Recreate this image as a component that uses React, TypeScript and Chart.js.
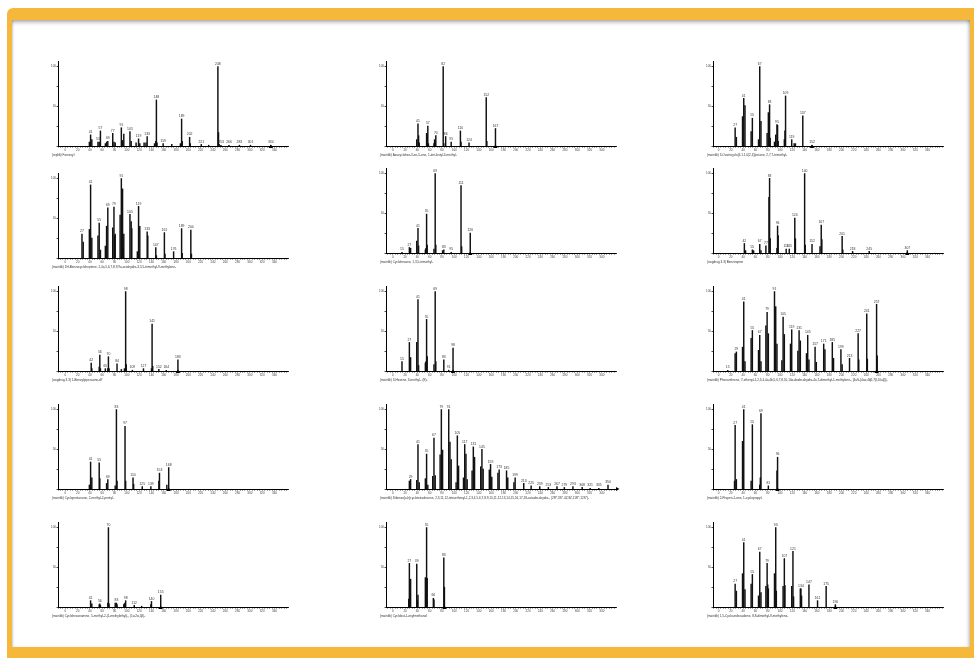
import React, { useEffect, useRef } from 'react';
import { Chart, registerables } from 'chart.js';

Chart.register(...registerables);
Chart.defaults.font.family = 'Arial, "Liberation Sans", sans-serif';

// ---------- axis labels ----------
const X_TICK_LABELS = [0, 20, 40, 60, 80, 100, 120, 140, 160, 180, 200, 220, 240, 260, 280, 300, 320, 340];
const Y_TICK_VALUES = [0, 25, 50, 75, 100];
const Y_TICK_LABELS = [50, 100];
const X_MINOR_STEP = 4;
const Y_MAX = 107;
const X_SPAN = 374;

// ---------- spectra (m/z, relative intensity, labelled peaks, molecular-weight marker) ----------
const A_TITLE = '(replib) Farnesyl';
const A_MZ = [39, 41, 43, 53, 55, 57, 65, 67, 69, 77, 79, 81, 91, 93, 95, 105, 107, 115, 119, 121, 128, 131, 133, 145, 147, 148, 149, 159, 173, 187, 189, 190, 202, 203, 221, 233, 248, 249, 250, 253, 266, 283, 301, 334];
const A_INT = [5, 14, 8, 5, 5, 19, 3, 5, 6, 16, 5, 4, 23, 7, 15, 18, 6, 4, 9, 3, 4, 4, 12, 3, 6, 58, 4, 3, 2, 3, 34, 6, 11, 3, 2, 1, 100, 17, 2, 1, 1, 1, 1, 1];
const A_LABELS = [41, 53, 57, 69, 77, 91, 105, 119, 133, 148, 159, 189, 202, 221, 248, 253, 266, 283, 301, 334];
const A_MW = 334;

const B_TITLE = '(mainlib) 1H-Benzocycloheptene, 2,4a,5,6,7,8,9,9a-octahydro-3,5,5-trimethyl-9-methylene-';
const B_MZ = [27, 29, 39, 41, 43, 53, 55, 57, 65, 67, 69, 77, 79, 80, 81, 89, 91, 93, 94, 95, 105, 107, 108, 117, 119, 121, 133, 134, 147, 148, 161, 162, 176, 189, 190, 204, 205];
const B_INT = [30, 20, 36, 92, 25, 28, 44, 10, 15, 40, 63, 38, 64, 28, 30, 54, 100, 87, 13, 30, 55, 46, 37, 8, 65, 40, 33, 28, 13, 3, 32, 5, 8, 37, 6, 35, 5];
const B_LABELS = [27, 41, 55, 69, 79, 91, 105, 119, 133, 147, 161, 176, 189, 204];
const B_MW = null;

const C_TITLE = '(swgdrug 3.3) 1-Benzylpiperazine-d7';
const C_MZ = [42, 43, 55, 56, 57, 65, 69, 70, 71, 84, 91, 96, 98, 99, 109, 127, 140, 141, 142, 152, 164, 183];
const C_INT = [10, 3, 5, 20, 3, 3, 3, 18, 3, 9, 2, 3, 100, 8, 1, 3, 3, 59, 6, 2, 1, 14];
const C_LABELS = [42, 56, 65, 70, 84, 98, 109, 127, 141, 152, 164, 183];
const C_MW = 183;

const D_TITLE = '(mainlib) Cyclopentanone, 2-methyl-2-pentyl-';
const D_MZ = [39, 41, 43, 55, 56, 67, 69, 81, 83, 84, 97, 98, 110, 111, 125, 139, 152, 153, 165, 168];
const D_INT = [5, 34, 14, 33, 13, 7, 12, 4, 100, 10, 79, 10, 14, 6, 3, 3, 10, 20, 5, 27];
const D_LABELS = [41, 55, 69, 83, 97, 110, 125, 139, 153, 168];
const D_MW = 168;

const E_TITLE = '(mainlib) Cyclohexanamine, 5-methyl-2-(1-methylethyl)-, (1\u03b1,2\u03b1,5\u03b2)-';
const E_MZ = [41, 43, 55, 56, 57, 69, 70, 71, 81, 83, 84, 95, 96, 97, 98, 112, 124, 139, 140, 155];
const E_INT = [8, 4, 3, 4, 2, 5, 100, 4, 5, 5, 3, 3, 4, 5, 8, 2, 1, 3, 7, 15];
const E_LABELS = [41, 56, 70, 83, 98, 112, 140, 155];
const E_MW = 155;

const F_TITLE = '(mainlib) Azacyclohex-3-en-5-one, 1-tert-butyl-3-methyl-';
const F_MZ = [39, 41, 42, 43, 55, 56, 57, 58, 67, 68, 69, 70, 82, 83, 86, 95, 110, 111, 124, 152, 153, 167];
const F_INT = [8, 28, 13, 4, 16, 14, 25, 3, 3, 8, 5, 13, 100, 3, 12, 5, 19, 5, 4, 61, 6, 22];
const F_LABELS = [41, 57, 70, 82, 86, 95, 110, 124, 152, 167];
const F_MW = 167;

const G_TITLE = '(mainlib) Cyclohexane, 1,3,5-trimethyl-';
const G_MZ = [15, 27, 29, 39, 41, 42, 53, 54, 55, 56, 67, 69, 70, 81, 83, 95, 111, 112, 126];
const G_INT = [1, 7, 6, 15, 31, 9, 4, 6, 49, 10, 5, 100, 10, 3, 4, 1, 85, 8, 25];
const G_LABELS = [15, 27, 41, 55, 69, 83, 95, 111, 126];
const G_MW = 126;

const H_TITLE = '(mainlib) 3-Hexene, 3-methyl-, (E)-';
const H_MZ = [15, 27, 29, 39, 41, 42, 53, 54, 55, 56, 67, 69, 70, 83, 91, 98];
const H_INT = [12, 36, 17, 36, 90, 7, 10, 12, 65, 18, 8, 100, 12, 14, 1, 29];
const H_LABELS = [15, 27, 41, 55, 69, 83, 91, 98];
const H_MW = 98;

const I_TITLE = '(mainlib) Dibenzo[a,h]cyclotetradecene, 2,3,11,12-tetraethenyl-1,2,3,4,5,6,7,8,9,10,11,12,13,14,15,16,17,18-octadecahydro-, (2R*,3S*,4Z,8Z,11R*,12S*)-';
const I_MZ = [27, 29, 39, 41, 43, 53, 55, 57, 65, 67, 69, 77, 79, 81, 91, 93, 95, 103, 105, 107, 115, 117, 119, 121, 129, 131, 133, 143, 145, 147, 157, 159, 161, 171, 173, 185, 187, 197, 199, 213, 225, 239, 253, 267, 279, 293, 308, 321, 335, 350];
const I_INT = [10, 12, 11, 56, 8, 13, 44, 5, 16, 64, 17, 43, 100, 49, 100, 59, 37, 8, 67, 29, 14, 56, 44, 12, 23, 53, 40, 28, 50, 25, 24, 31, 15, 20, 24, 23, 14, 8, 14, 7, 4, 3, 2, 3, 2, 3, 2, 1, 1, 5];
const I_LABELS = [29, 41, 55, 67, 79, 91, 105, 117, 131, 145, 159, 173, 185, 199, 213, 225, 239, 253, 267, 279, 293, 308, 321, 335, 350];
const I_MW = null;

const J_TITLE = '(mainlib) Cyclobut-1-enylmethanol';
const J_MZ = [26, 27, 28, 29, 39, 40, 41, 53, 54, 55, 56, 66, 67, 83, 84];
const J_INT = [10, 55, 25, 35, 54, 8, 15, 37, 16, 100, 36, 11, 9, 62, 25];
const J_LABELS = [27, 39, 55, 66, 83];
const J_MW = 84;

const K_TITLE = '(mainlib) 3-Oxatricyclo[4.1.1.0(2,4)]octane, 2,7,7-trimethyl-';
const K_MZ = [27, 29, 39, 41, 43, 53, 55, 65, 67, 69, 79, 81, 83, 84, 91, 93, 95, 96, 97, 107, 108, 109, 119, 123, 125, 137, 152];
const K_INT = [23, 11, 37, 60, 51, 18, 35, 8, 100, 31, 16, 42, 52, 10, 5, 14, 27, 26, 6, 8, 19, 63, 8, 3, 3, 38, 1];
const K_LABELS = [27, 41, 55, 67, 83, 95, 109, 119, 137, 152];
const K_MW = 152;

const L_TITLE = '(swgdrug 3.3) Benztropine';
const L_MZ = [42, 44, 55, 57, 67, 69, 77, 82, 83, 84, 95, 96, 97, 110, 115, 124, 125, 140, 141, 152, 165, 167, 168, 201, 202, 218, 245, 307];
const L_INT = [12, 3, 4, 3, 11, 3, 9, 70, 94, 18, 6, 34, 22, 5, 5, 44, 18, 100, 10, 11, 8, 35, 17, 21, 4, 2, 2, 3];
const L_LABELS = [42, 55, 67, 77, 83, 96, 110, 115, 124, 140, 152, 167, 201, 218, 245, 307];
const L_MW = 307;

const M_TITLE = '(mainlib) Phenanthrene, 7-ethenyl-1,2,3,4,4a,4b,5,6,7,8,10,10a-dodecahydro-4a,7-dimethyl-1-methylene-, [4aS-(4a\u03b1,4b\u03b2,7\u03b2,10a\u03b2)]-';
const M_MZ = [15, 27, 29, 39, 41, 43, 53, 55, 65, 67, 69, 77, 79, 81, 91, 93, 95, 103, 105, 107, 117, 119, 129, 131, 133, 143, 145, 147, 157, 159, 171, 173, 185, 187, 199, 201, 213, 227, 228, 241, 242, 257, 258];
const M_INT = [1, 22, 24, 30, 87, 12, 41, 51, 26, 45, 12, 57, 74, 47, 100, 81, 34, 13, 68, 46, 34, 52, 25, 51, 38, 22, 45, 14, 30, 11, 34, 27, 36, 16, 27, 8, 16, 47, 14, 72, 15, 84, 19];
const M_LABELS = [15, 29, 41, 55, 67, 79, 91, 105, 119, 131, 145, 157, 171, 185, 199, 213, 227, 241, 257];
const M_MW = 257;

const N_TITLE = '(mainlib) 2-Propen-1-one, 1-cyclopropyl-';
const N_MZ = [26, 27, 29, 39, 41, 53, 55, 67, 68, 69, 81, 95, 96];
const N_INT = [10, 80, 12, 60, 100, 10, 81, 5, 14, 95, 4, 23, 40];
const N_LABELS = [27, 41, 55, 69, 81, 96];
const N_MW = 96;

const O_TITLE = '(mainlib) 1,5-Cycloundecadiene, 8,8-dimethyl-9-methylene-';
const O_MZ = [27, 29, 39, 41, 43, 53, 55, 65, 67, 69, 77, 79, 80, 81, 91, 93, 94, 105, 107, 108, 119, 121, 122, 133, 134, 135, 147, 161, 175, 190];
const O_INT = [29, 20, 42, 81, 22, 29, 41, 14, 69, 18, 26, 55, 28, 23, 42, 100, 20, 26, 61, 27, 26, 70, 13, 23, 23, 14, 28, 8, 26, 3];
const O_LABELS = [27, 41, 55, 67, 79, 93, 107, 121, 134, 147, 161, 175, 190];
const O_MW = 190;

type Spec = {
  title: string;
  mz: number[];
  inten: number[];
  labels: number[];
  mw: number | null;
  arrow?: boolean;
};

// grid order: rows of three
const GRID: Spec[][] = [
  [
    { title: A_TITLE, mz: A_MZ, inten: A_INT, labels: A_LABELS, mw: A_MW },
    { title: F_TITLE, mz: F_MZ, inten: F_INT, labels: F_LABELS, mw: F_MW },
    { title: K_TITLE, mz: K_MZ, inten: K_INT, labels: K_LABELS, mw: K_MW },
  ],
  [
    { title: B_TITLE, mz: B_MZ, inten: B_INT, labels: B_LABELS, mw: B_MW },
    { title: G_TITLE, mz: G_MZ, inten: G_INT, labels: G_LABELS, mw: G_MW },
    { title: L_TITLE, mz: L_MZ, inten: L_INT, labels: L_LABELS, mw: L_MW },
  ],
  [
    { title: C_TITLE, mz: C_MZ, inten: C_INT, labels: C_LABELS, mw: C_MW },
    { title: H_TITLE, mz: H_MZ, inten: H_INT, labels: H_LABELS, mw: H_MW },
    { title: M_TITLE, mz: M_MZ, inten: M_INT, labels: M_LABELS, mw: M_MW },
  ],
  [
    { title: D_TITLE, mz: D_MZ, inten: D_INT, labels: D_LABELS, mw: D_MW },
    { title: I_TITLE, mz: I_MZ, inten: I_INT, labels: I_LABELS, mw: I_MW, arrow: true },
    { title: N_TITLE, mz: N_MZ, inten: N_INT, labels: N_LABELS, mw: N_MW },
  ],
  [
    { title: E_TITLE, mz: E_MZ, inten: E_INT, labels: E_LABELS, mw: E_MW },
    { title: J_TITLE, mz: J_MZ, inten: J_INT, labels: J_LABELS, mw: J_MW },
    { title: O_TITLE, mz: O_MZ, inten: O_INT, labels: O_LABELS, mw: O_MW },
  ],
];

// ---------- layout ----------
const COL_LEFT = [58, 386, 713];
const COL_XMIN = [-12, -11, -9];
const ROW_ZERO = [
  [146, 146, 146],
  [258, 253, 253],
  [371, 371, 371],
  [489, 489, 489],
  [607, 607, 607],
];
const PLOT_W = 230;
const PLOT_H = 85;
const PAD_L = 22;
const PAD_T = 6;
const PAD_R = 14;
const CW = PAD_L + PLOT_W + PAD_R;
const CH = 116;
const Y_AXIS_W = 12;
const X_AXIS_H = 8;

const FONT = 'Arial, "Liberation Sans", sans-serif';

function Spectrum({ spec, left, zeroY, xMin }: { spec: Spec; left: number; zeroY: number; xMin: number }) {
  const ref = useRef<HTMLCanvasElement | null>(null);

  useEffect(() => {
    const canvas = ref.current;
    if (!canvas) return;
    const xMax = xMin + X_SPAN;
    const xTicks: number[] = [];
    for (let v = Math.ceil(xMin / X_MINOR_STEP) * X_MINOR_STEP; v <= xMax; v += X_MINOR_STEP) xTicks.push(v);

    const annotate = {
      id: 'annotate',
      afterDatasetsDraw(chart: any) {
        const ctx = chart.ctx;
        const xs = chart.scales.x;
        const ys = chart.scales.y;
        const area = chart.chartArea;
        ctx.save();
        // peak labels
        ctx.fillStyle = '#333';
        ctx.font = `3.4px ${FONT}`;
        ctx.textAlign = 'center';
        ctx.textBaseline = 'bottom';
        spec.labels.forEach((m) => {
          const i = spec.mz.indexOf(m);
          if (i < 0) return;
          const x = xs.getPixelForValue(m);
          const y = ys.getPixelForValue(spec.inten[i]);
          ctx.fillText(String(m), x, y - 1);
        });
        // molecular weight marker
        const zero = ys.getPixelForValue(0);
        ctx.fillStyle = '#000';
        if (spec.mw !== null) {
          const x = xs.getPixelForValue(spec.mw);
          ctx.beginPath();
          ctx.moveTo(x - 2.2, zero + 2);
          ctx.lineTo(x + 2.2, zero + 2);
          ctx.lineTo(x, zero - 1.5);
          ctx.closePath();
          ctx.fill();
        }
        if (spec.arrow) {
          const x = area.right;
          ctx.beginPath();
          ctx.moveTo(x, zero - 2);
          ctx.lineTo(x, zero + 2);
          ctx.lineTo(x + 3.5, zero);
          ctx.closePath();
          ctx.fill();
        }
        // caption
        ctx.fillStyle = '#333';
        ctx.font = `3.1px ${FONT}`;
        ctx.textAlign = 'left';
        ctx.textBaseline = 'middle';
        ctx.fillText(spec.title, area.left - 6, area.bottom + 9.5);
        ctx.restore();
      },
    };

    const chart = new Chart(canvas, {
      type: 'bar',
      data: {
        datasets: [
          {
            data: spec.mz.map((m, i) => ({ x: m, y: spec.inten[i] })),
            backgroundColor: '#111',
            borderWidth: 0,
            barThickness: 0.8,
            grouped: false,
          } as any,
        ],
      },
      options: {
        animation: false,
        responsive: false,
        maintainAspectRatio: false,
        events: [],
        layout: {
          padding: {
            left: PAD_L - Y_AXIS_W,
            top: PAD_T,
            right: PAD_R,
            bottom: CH - PAD_T - PLOT_H - X_AXIS_H,
          },
        },
        plugins: {
          legend: { display: false },
          tooltip: { enabled: false },
          title: { display: false },
        },
        scales: {
          x: {
            type: 'linear',
            min: xMin,
            max: xMax,
            offset: false,
            afterBuildTicks: (s: any) => {
              s.ticks = xTicks.map((v) => ({ value: v }));
            },
            afterFit: (s: any) => {
              s.height = X_AXIS_H;
            },
            ticks: {
              autoSkip: false,
              maxRotation: 0,
              minRotation: 0,
              padding: 0.5,
              color: '#444',
              font: { size: 3, family: FONT },
              callback: (v: any) => (X_TICK_LABELS.includes(Number(v)) ? String(v) : ''),
            },
            grid: {
              drawOnChartArea: false,
              drawTicks: true,
              tickLength: 1.5,
              color: '#000',
              lineWidth: 0.7,
              offset: false,
            },
            border: { display: true, color: '#000', width: 1 },
          },
          y: {
            type: 'linear',
            min: 0,
            max: Y_MAX,
            afterBuildTicks: (s: any) => {
              s.ticks = Y_TICK_VALUES.map((v) => ({ value: v }));
            },
            afterFit: (s: any) => {
              s.width = Y_AXIS_W;
            },
            ticks: {
              autoSkip: false,
              padding: 0.5,
              color: '#444',
              font: { size: 3, family: FONT },
              callback: (v: any) => (Y_TICK_LABELS.includes(Number(v)) ? String(v) : ''),
            },
            grid: {
              drawOnChartArea: false,
              drawTicks: true,
              tickLength: 1.5,
              color: '#000',
              lineWidth: 0.7,
            },
            border: { display: true, color: '#000', width: 1 },
          },
        },
      } as any,
      plugins: [annotate],
    });
    return () => chart.destroy();
  }, [spec, xMin]);

  return (
    <canvas
      ref={ref}
      width={CW}
      height={CH}
      style={{
        position: 'absolute',
        left: left - PAD_L,
        top: zeroY - PLOT_H - PAD_T,
        width: CW,
        height: CH,
      }}
    />
  );
}

export default function App() {
  return (
    <div
      style={{
        position: 'absolute',
        left: 0,
        top: 0,
        width: 974,
        height: 658,
        overflow: 'hidden',
        background: '#fff',
      }}
    >
      <div
        style={{
          position: 'absolute',
          left: 7,
          top: 8,
          width: 967,
          height: 650,
          background: '#F5B83B',
          borderTopLeftRadius: 6,
        }}
      />
      <div
        style={{
          position: 'absolute',
          left: 12,
          top: 20,
          width: 958,
          height: 627,
          background: '#fff',
          boxShadow:
            'inset 0 4px 4px -2px rgba(0,0,0,0.35), inset -3px 0 3px -1px rgba(0,0,0,0.18), inset 2px 0 2px -1px rgba(0,0,0,0.15)',
        }}
      />
      {GRID.map((row, r) =>
        row.map((spec, c) => (
          <Spectrum key={`${r}-${c}`} spec={spec} left={COL_LEFT[c]} zeroY={ROW_ZERO[r][c]} xMin={COL_XMIN[c]} />
        ))
      )}
    </div>
  );
}
